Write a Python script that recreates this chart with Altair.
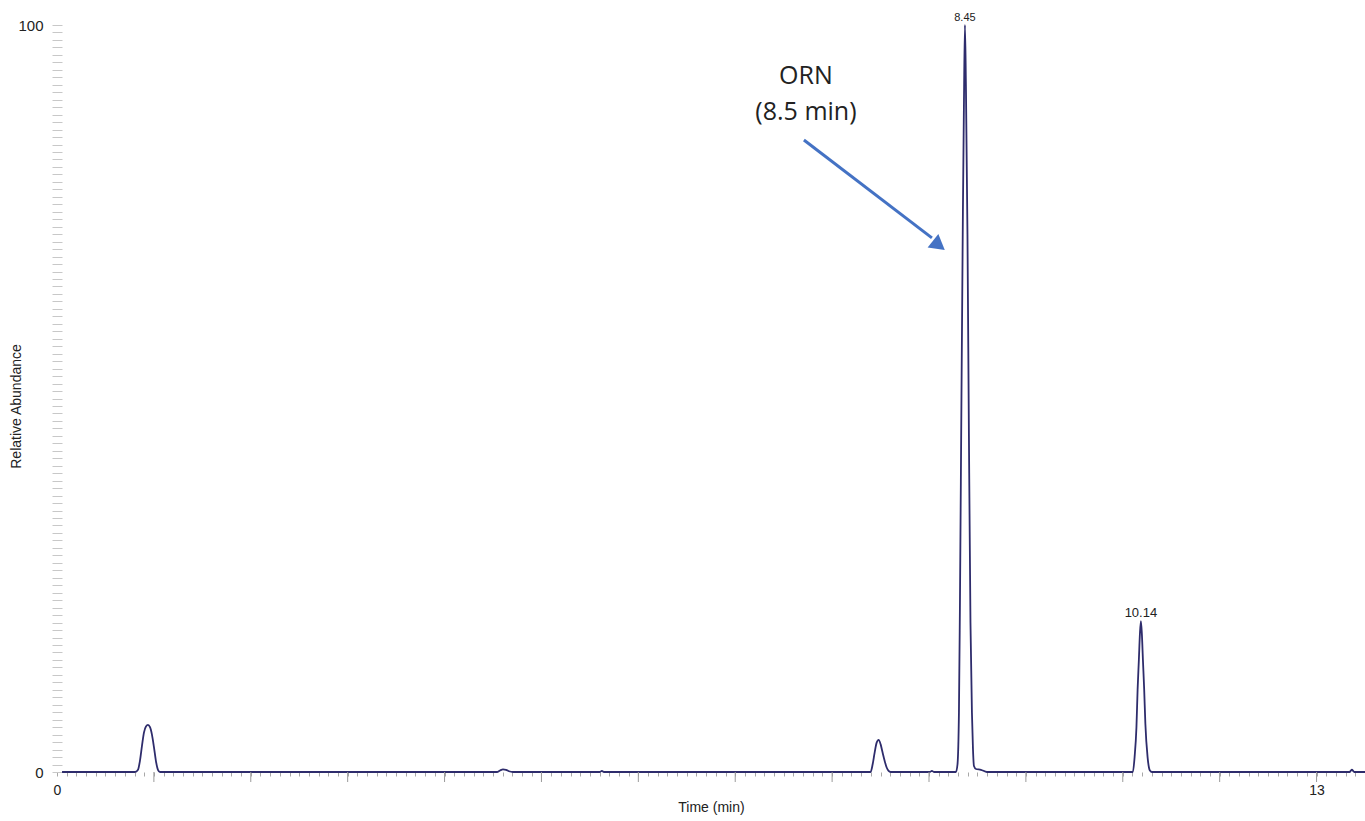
import altair as alt
import pandas as pd

# ---- chromatogram trace (time in axis minutes, relative abundance %) ----
times = [
    0.052,
    0.805, 0.836, 0.856, 0.877, 0.898, 0.918, 0.939, 0.960, 0.980, 1.001, 1.022, 1.042, 1.063,
    4.541, 4.572, 4.603, 4.634, 4.665, 4.706,
    5.604, 5.624, 5.645,
    8.397, 8.418, 8.439, 8.459, 8.480, 8.501, 8.521, 8.542, 8.563, 8.583, 8.604,
    9.010, 9.030, 9.050,
    9.278, 9.294, 9.309, 9.319, 9.335, 9.350, 9.361, 9.371, 9.381, 9.397, 9.412, 9.428,
    9.443, 9.454, 9.464, 9.485, 9.536, 9.598,
    11.104, 11.122, 11.141, 11.153, 11.166, 11.177, 11.187, 11.197, 11.208, 11.221, 11.233,
    11.256, 11.270, 11.280, 11.301,
    13.340, 13.364, 13.390,
    13.500,
]
abundance = [
    0.0,
    0.0, 0.3, 1.5, 3.5, 5.3, 6.1, 6.3, 6.0, 5.0, 3.3, 1.4, 0.3, 0.0,
    0.0, 0.2, 0.35, 0.3, 0.1, 0.0,
    0.0, 0.15, 0.0,
    0.0, 1.0, 2.6, 3.9, 4.3, 3.7, 2.6, 1.5, 0.6, 0.15, 0.0,
    0.0, 0.15, 0.0,
    0.0, 1.0, 8.0, 22.0, 50.0, 75.0, 90.0, 100.0, 92.0, 72.0, 45.0, 20.0,
    8.0, 3.0, 0.8, 0.4, 0.3, 0.0,
    0.0, 2.0, 6.0, 11.0, 15.0, 18.5, 20.2, 18.5, 15.0, 11.0, 6.5,
    2.0, 0.6, 0.2, 0.0,
    0.0, 0.3, 0.0,
    0.0,
]

# ---- peak labels ----
peak_times = [9.371, 11.187]
peak_heights = [100.0, 20.2]
peak_labels = ["8.45", "10.14"]
peak_font = [11, 13]

# ---- annotation ----
note_lines = ["ORN", "(8.5 min)"]
note_x = [7.730, 7.730]
note_y = [93.2, 88.35]
arrow_x = [7.709]
arrow_y = [84.6]
arrow_x2 = [9.030]
arrow_y2 = [71.5]
head_x = [9.102]
head_y = [70.5]

# ---- axis ticks ----
x_minor_ticks = [round(i * 0.1, 1) for i in range(0, 136)]
x_major_ticks = list(range(1, 14))
x_labelled = [0, 13]
y_ticks = list(range(0, 101))
y_labelled = [0, 100]

trace = pd.DataFrame({"time": times, "abundance": abundance})
peaks = pd.DataFrame({"time": peak_times, "abundance": peak_heights,
                      "label": peak_labels, "fs": peak_font})
notes = pd.DataFrame({"time": note_x, "abundance": note_y, "label": note_lines})
arrow = pd.DataFrame({"time": arrow_x, "abundance": arrow_y,
                      "time2": arrow_x2, "abundance2": arrow_y2})
head = pd.DataFrame({"time": head_x, "abundance": head_y})
majors = pd.DataFrame({"time": x_major_ticks})

xscale = alt.Scale(domain=[0, 13.5], nice=False, zero=False)
yscale = alt.Scale(domain=[0, 100], nice=False)

LINE = "#2e2c6c"
TXT = "#222222"

x_label_expr = " || ".join(f"datum.value == {v}" for v in x_labelled)
y_label_expr = " || ".join(f"datum.value == {v}" for v in y_labelled)

xaxis = alt.Axis(
    title="Time (min)", values=x_minor_ticks, domain=False, grid=False,
    tickSize=4, tickColor="#a8a8a8", tickWidth=1,
    labelExpr=f"({x_label_expr}) ? format(datum.value, 'd') : ''",
    labelFont="Liberation Sans", labelFontSize=14, labelColor=TXT,
    labelPadding=7, labelFlush=False, labelOverlap=False,
    titleFont="Liberation Sans", titleFontSize=14, titleFontWeight="normal",
    titleColor=TXT, titlePadding=3)
yaxis = alt.Axis(
    title="Relative Abundance", values=y_ticks, domain=False, grid=False,
    offset=-5, tickSize=10, tickColor="#c8c8c8", tickWidth=1,
    labelExpr=f"({y_label_expr}) ? format(datum.value, 'd') : ''",
    labelFont="Liberation Sans", labelFontSize=15, labelColor=TXT,
    labelPadding=9, labelOverlap=False, labelFlush=False,
    titleFont="Liberation Sans", titleFontSize=14, titleFontWeight="normal",
    titleColor=TXT, titleX=-45.5, titleY=381, titleBaseline="middle")

X = alt.X("time:Q", scale=xscale, axis=xaxis)
Y = alt.Y("abundance:Q", scale=yscale, axis=yaxis)

line = alt.Chart(trace).mark_line(color=LINE, strokeWidth=1.8, interpolate="monotone").encode(
    x=X, y=Y,
)

major_ticks = alt.Chart(majors).mark_rule(color="#9a9a9a", strokeWidth=1).encode(
    x=X, y=alt.value(747), y2=alt.value(757),
)

peak_text = alt.Chart(peaks).mark_text(
    font="Liberation Sans", color=TXT, baseline="alphabetic", dy=-4
).encode(
    x=X, y=Y,
    text="label:N",
    size=alt.Size("fs:Q", scale=None, legend=None),
)

note_text = alt.Chart(notes).mark_text(
    font="Open Sans", fontSize=25, color=TXT, baseline="middle", align="center"
).encode(
    x=X, y=Y,
    text="label:N",
)

shaft = alt.Chart(arrow).mark_rule(color="#4472C4", strokeWidth=3).encode(
    x=X, y=Y,
    x2="time2:Q", y2="abundance2:Q",
)

arrow_head = alt.Chart(head).mark_point(
    shape="triangle-right", angle=38.2, size=300, filled=True,
    color="#4472C4", opacity=1
).encode(
    x=X, y=Y,
)

chart = alt.layer(line, major_ticks, peak_text, note_text, shaft, arrow_head).properties(
    width=1308, height=747,
    autosize=alt.AutoSizeParams(type="none"),
    padding={"left": 57, "top": 25, "right": 0, "bottom": 49},
    background="white",
).configure_view(stroke=None)

chart.save("out.html", embed_options={"renderer": "svg", "actions": False})
